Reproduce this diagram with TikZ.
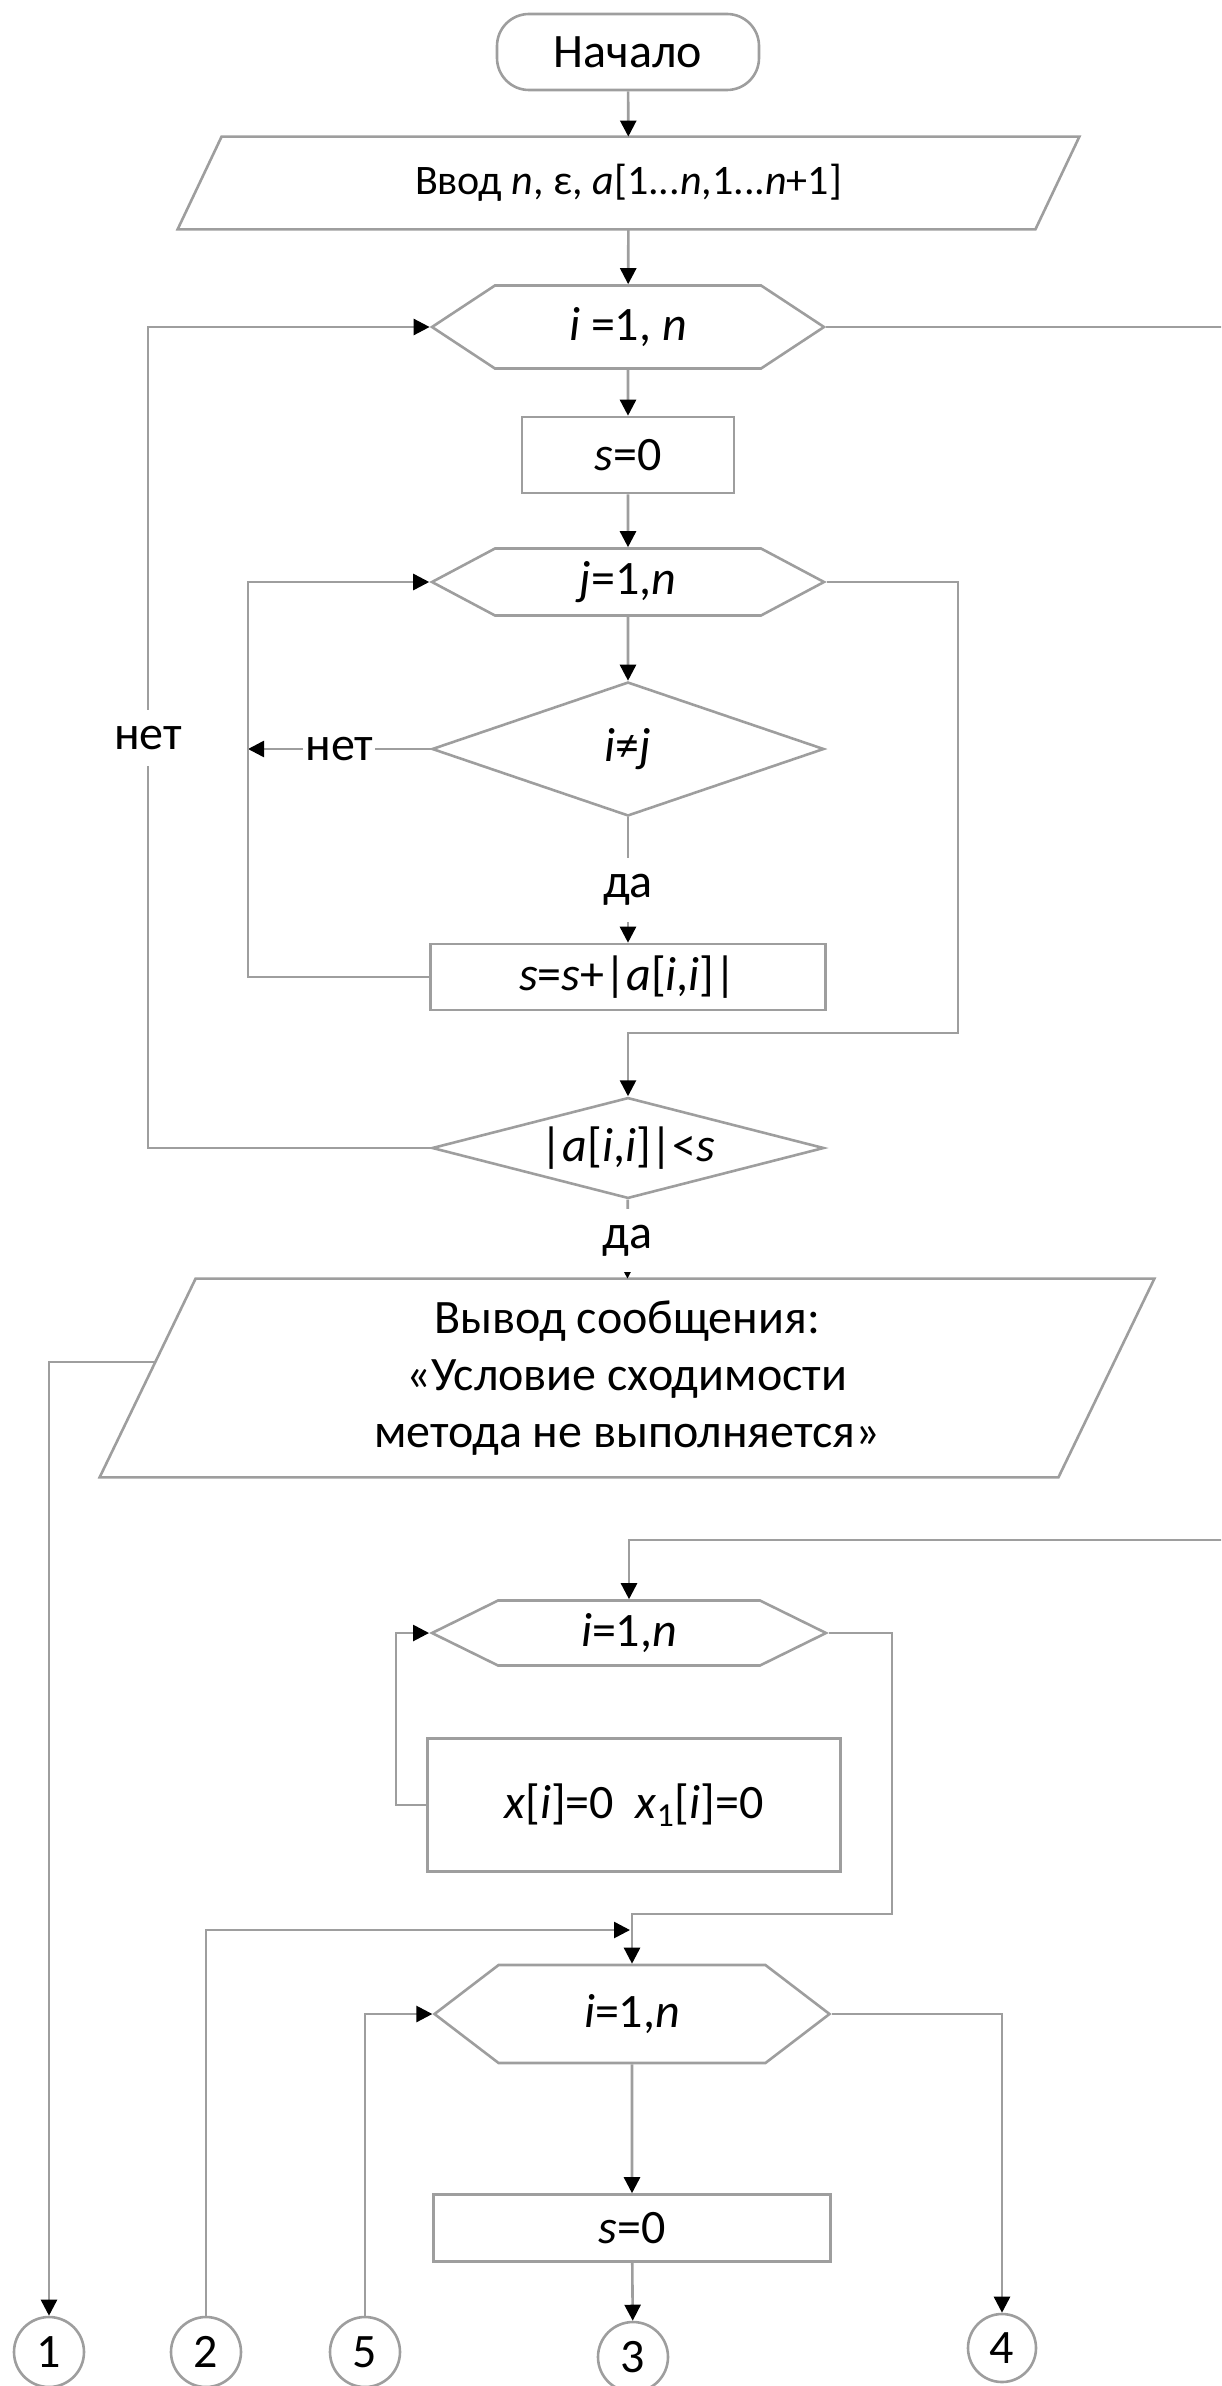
\documentclass[tikz,border=0pt]{standalone}
\usepackage{fontspec}
\setmainfont{Carlito}
\usetikzlibrary{shapes.geometric,shapes.symbols,arrows.meta}

\begin{document}
\begin{tikzpicture}[x=0.5pt,y=-0.5pt,
		every node/.style={font=\fontsize{24}{28.5}\selectfont},
		wire/.style={draw=black!38, line width=1.3pt},
		arr/.style={wire, -{Triangle[length=8pt,width=8pt,color=black]}},
		term/.style={wire, rectangle, rounded corners=16pt, minimum width=131pt, minimum height=38pt},
		proc/.style={wire, rectangle},
		io/.style={rectangle, append after command={\pgfextra{\draw[wire] ([xshift=#1]\tikzlastnode.north west) -- (\tikzlastnode.north east) -- ([xshift=-#1]\tikzlastnode.south east) -- (\tikzlastnode.south west) -- cycle;}}},
		cyc/.style={wire, signal, signal to=west and east, signal pointer angle=#1, inner sep=0pt},
		cond/.style={wire, diamond, aspect=3, inner sep=0pt},
		conn/.style={wire, circle, minimum size=35pt, inner sep=0pt},
		lbl/.style={fill=white, inner xsep=1pt, inner ysep=8pt}]
	\useasboundingbox (0,0) rectangle (1221,2386);
	\clip (0,0) rectangle (1221,2386);

	\node[term] (start) at (628,52) {Начало};
	\node[io=22pt, minimum width=450.5pt, minimum height=46pt, font=\fontsize{21}{25}\selectfont] (input) at (628.5,183) {Ввод \textit{n}, ε, \textit{a}[1...\textit{n},1...\textit{n}+1]};
	\node[cyc=66.8, minimum width=196pt, minimum height=41.5pt] (loopI) at (628,327) {\textit{i} =1, \textit{n}};
	\node[proc, minimum width=106pt, minimum height=38pt] (s0) at (628,455) {\textit{s}=0};
	\node[cyc=56, minimum width=196pt, minimum height=33.5pt] (loopJ) at (628,582) {\textit{j}=1,\textit{n}};
	\node[cond, minimum width=196pt, minimum height=67pt] (cond1) at (628,749) {\textit{i}≠\textit{j}};
	\node[proc, minimum width=197.5pt, minimum height=33pt] (sum) at (628,977) {\textit{s}=\textit{s}+|\textit{a}[\textit{i},\textit{i}]|};
	\node[cond, minimum width=196pt, minimum height=48.5pt] (cond2) at (628,1148) {|\textit{a}[\textit{i},\textit{i}]|<\textit{s}};
	\node[io=48pt, minimum width=527pt, minimum height=99pt, align=center] (output) at (627,1378) {Вывод сообщения:\\«Условие сходимости\\метода не выполняется»};
	\node[cyc=52.4, minimum width=197pt, minimum height=32.5pt] (loopI2) at (629,1633) {\textit{i}=1,\textit{n}};
	\node[proc, minimum width=206.5pt, minimum height=66.5pt] (init) at (634,1805) {\textit{x}[\textit{i}]=0\ \ \textit{x}\textsubscript{1}[\textit{i}]=0};
	\node[cyc=74.8, minimum width=197.5pt, minimum height=49pt] (loopI3) at (632,2014) {\textit{i}=1,\textit{n}};
	\node[proc, minimum width=198.5pt, minimum height=33.5pt] (s0b) at (632,2228) {\textit{s}=0};
	\node[conn] (c1) at (49,2352) {1};
	\node[conn] (c2) at (206,2352) {2};
	\node[conn] (c5) at (365,2352) {5};
	\node[conn] (c3) at (633,2357) {3};
	\node[conn, minimum size=34pt] (c4) at (1002,2348) {4};

	\coordinate (jback) at (248,749);
	\coordinate (jout) at (958,1033);
	\coordinate (iback) at (148,738);
	\coordinate (iexit) at (1230,327);
	\coordinate (ientry) at (1230,1540);
	\coordinate (iloop) at (396,1720);
	\coordinate (i2out) at (892,1914);
	\coordinate (join2) at (630,1930);

	\path[every edge/.style={arr}]
	(start) edge (input)
	(input) edge (loopI)
	(loopI) edge (s0)
	(s0) edge (loopJ)
	(loopJ) edge (cond1)
	(cond1) edge node[lbl, pos=0.58] {да} (sum)
	(cond1.west) edge node[lbl] {нет} (jback)
	(cond2) edge node[lbl, pos=0.52] {да} (output)
	(loopI3) edge (s0b)
	(s0b) edge (c3)
	;
	\draw[arr] (sum.west) -| (jback) |- (loopJ.west);
	\draw[arr] (loopJ.east) -| (jout) -| (cond2);
	\draw[arr] (cond2.west) -| (iback) node[lbl] {нет} |- (loopI.west);
	\draw[wire] (loopI.east) -- (iexit);
	\draw[arr] ([xshift=28pt,yshift=8pt]output.west) -| (c1);
	\draw[arr] (ientry) -| (loopI2);
	\draw[arr] (init.west) -| (iloop) |- (loopI2.west);
	\draw[arr] (loopI2.east) -| (i2out) -| (loopI3);
	\draw[arr] (c2) |- (join2);
	\draw[arr] (c5) |- (loopI3.west);
	\draw[arr] (loopI3.east) -| (c4);
\end{tikzpicture}
\end{document}
